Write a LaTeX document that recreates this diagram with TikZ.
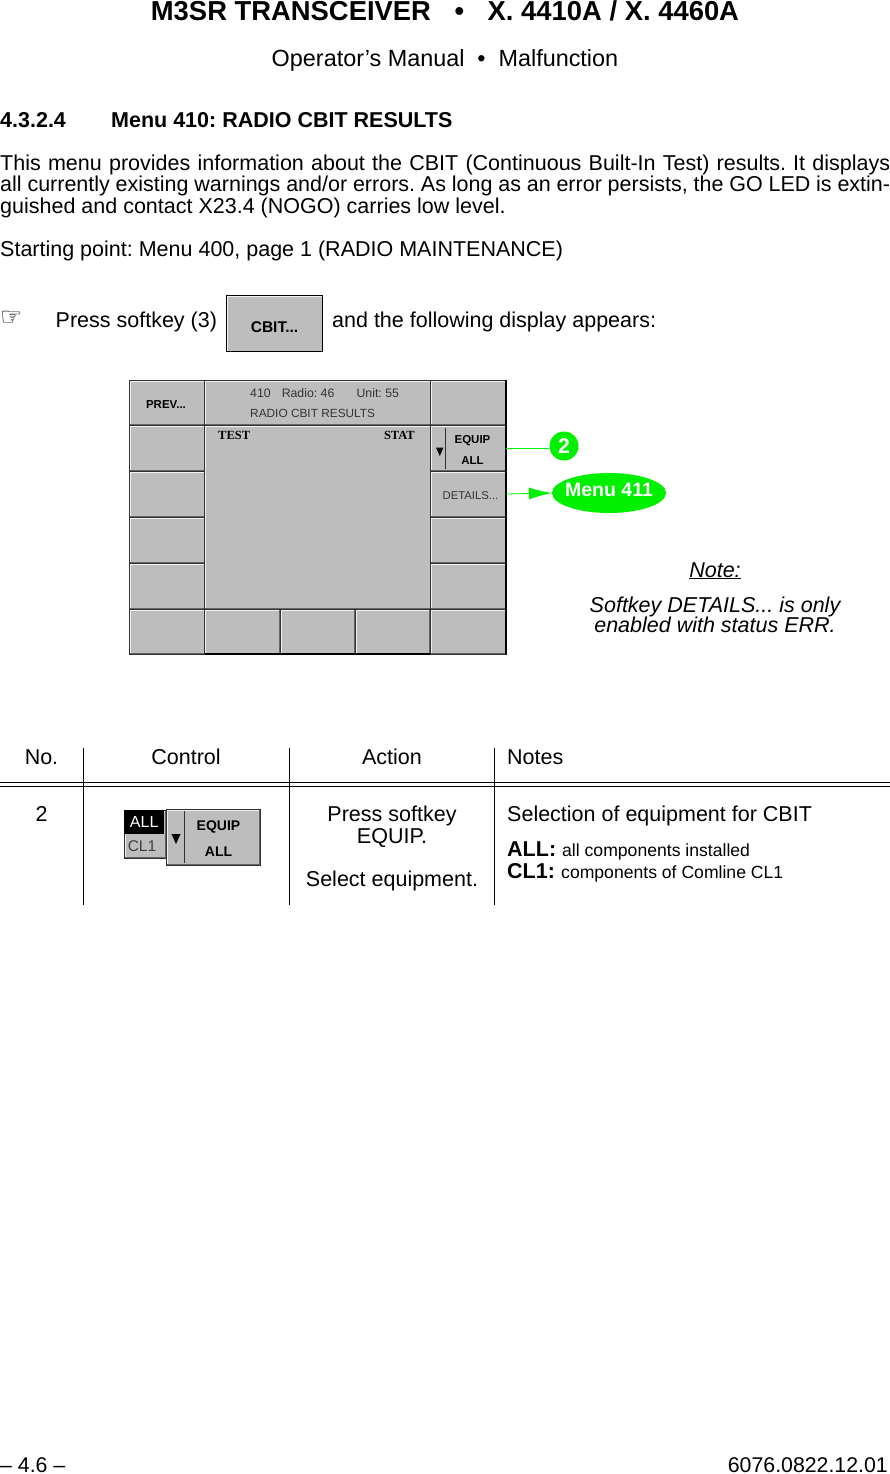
\documentclass[tikz,border=0pt]{standalone}
\usepackage{fontspec}
\setmainfont{Liberation Sans}
\newfontfamily\symfont{DejaVu Sans}
\newfontfamily\keyfont{Liberation Serif}
\usetikzlibrary{arrows.meta,shapes.geometric}
\AtBeginDocument{\frenchspacing}
\definecolor{keygray}{HTML}{BDBDBD}
\definecolor{keydark}{HTML}{303030}
\definecolor{menugreen}{HTML}{00F000}
\tikzset{
  softkey/.style={draw=keydark, line width=1pt, fill=keygray, inner sep=0pt, outer sep=0pt, anchor=north west,
    path picture={
      \draw[white!80!keygray, line width=3.5pt] (path picture bounding box.south west) -- (path picture bounding box.north west) -- (path picture bounding box.north east);
      \draw[black!60, line width=2pt] (path picture bounding box.south west) -- (path picture bounding box.south east) -- (path picture bounding box.north east);
    }},
  bodytext/.style={font=\fontsize{21.5}{21.5}\selectfont, inner sep=0pt},
  smalltext/.style={font=\fontsize{17.6}{21.5}\selectfont, inner sep=0pt},
  headtext/.style={font=\fontsize{21.5}{21.5}\selectfont\bfseries, inner sep=0pt},
  keylabel/.style={font=\fontsize{11.5}{14}\selectfont\bfseries, inner sep=0pt, text=black},
  screentext/.style={font=\fontsize{11.85}{14}\selectfont, inner sep=0pt, text=black!80},
  notetext/.style={font=\fontsize{21.5}{21.5}\selectfont\itshape, inner sep=0pt, anchor=base},
  tableline/.style={line width=1pt},
  greenline/.style={menugreen, line width=0.8pt},
}
\begin{document}
\begin{tikzpicture}[x=1pt,y=-1pt]
\useasboundingbox (0,0) rectangle (890,1474);
% Kop
\node[font=\fontsize{27.4}{27}\selectfont\bfseries, inner sep=0pt, anchor=base] (title) at (445,20.5) {M3SR TRANSCEIVER\hspace{0.86em}\textbullet\hspace{0.86em}X. 4410A / X. 4460A};
\node[font=\fontsize{23.4}{24}\selectfont, inner sep=0pt, anchor=base] (subtitle) at (445,66.5) {Operator’s Manual\hspace{0.55em}\textbullet\hspace{0.55em}Malfunction};
\node[headtext, anchor=base west] (secnum) at (0,127.5) {4.3.2.4};
\node[headtext, anchor=base west] (sectitle) at (111,127.5) {Menu 410: RADIO CBIT RESULTS};
% Tekst
\node[bodytext, anchor=north west, text width=890pt, align=justify] (intro) at (0,154.5) {This menu provides information about the CBIT (Continuous Built-In Test) results. It displays\linebreak all currently existing warnings and/or errors. As long as an error persists, the GO LED is extin-\linebreak guished and contact X23.4 (NOGO) carries low level.};
\node[bodytext, anchor=base west] (start) at (0,256) {Starting point: Menu 400, page 1 (RADIO MAINTENANCE)};
\node[inner sep=0pt, anchor=base west, font=\symfont\fontsize{25}{25}\selectfont\bfseries] (hand) at (0,325) {☞};
\node[bodytext, anchor=base west] (press) at (55.5,327) {Press softkey (3)};
\node[bodytext, anchor=base west] (appears) at (332,327) {and the following display appears:};
% Toets CBIT
\node[softkey, draw=black, minimum width=96pt, minimum height=56pt] (keyCbit) at (226.5,295.5) {};
\node[keylabel, font=\fontsize{15.5}{14}\selectfont\bfseries] (cbitlabel) at (keyCbit.center) [yshift=-3.5pt] {CBIT...};
% Scherm
\node[softkey, minimum width=75pt, minimum height=45pt] (keyPrev) at (129.5,380) {};
\node[softkey, minimum width=226pt, minimum height=45pt] (header) at (204.5,380) {};
\node[softkey, minimum width=75.5pt, minimum height=45pt] (keyTop) at (430.5,380) {};
\node[softkey, minimum width=226pt, minimum height=184pt] (panel) at (204.5,425) {};
\foreach \row/\ytop in {1/425,2/471,3/517,4/563}{
  \node[softkey, minimum width=75pt, minimum height=46pt] (keyL\row) at (129.5,\ytop) {};
  \node[softkey, minimum width=75.5pt, minimum height=46pt] (keyR\row) at (430.5,\ytop) {};
}
\node[softkey, minimum width=75pt, minimum height=45pt] (keyB1) at (129.5,609) {};
\node[softkey, minimum width=75.5pt, minimum height=45pt] (keyB2) at (204.5,609) {};
\node[softkey, minimum width=75pt, minimum height=45pt] (keyB3) at (280,609) {};
\node[softkey, minimum width=75pt, minimum height=45pt] (keyB4) at (355,609) {};
\node[softkey, minimum width=75.5pt, minimum height=45pt] (keyB5) at (430.5,609) {};
\draw[black, line width=2pt] (keyB2.south west) -- (keyB4.south east);
\draw[black, line width=2pt] (keyTop.north east) -- (keyB5.south east);
\node[keylabel] (prevlabel) at (166,405) {PREV...};
\node[screentext, font=\fontsize{12.3}{14}\selectfont, anchor=base west] (radioinfo) at (250,397.5) {410\hspace{0.9em}Radio: 46\hspace{1.8em}Unit: 55};
\node[screentext, anchor=base west] (radiotitle) at (250,417.5) {RADIO CBIT RESULTS};
\node[keylabel, anchor=base west, font=\keyfont\fontsize{12.5}{14}\selectfont\bfseries] (testlabel) at (218,439) {TEST};
\node[keylabel, anchor=base east, font=\keyfont\fontsize{12.5}{14}\selectfont\bfseries] (statlabel) at (415,439) {STAT};
\draw[keydark, line width=1pt] (445,428) -- (445,469);
\fill[black] (436,447.5) -- (443.5,447.5) -- (439.8,456) -- cycle;
\node[keylabel] (equiplabel) at (472.5,441) {EQUIP};
\node[keylabel] (alllabel) at (472.5,460.5) {ALL};
\node[screentext, font=\fontsize{11.3}{14}\selectfont] (detailslabel) at (470.5,496) {DETAILS...};
% Verwijzingen
\node[circle, fill=menugreen, text=white, font=\fontsize{21.3}{21.5}\selectfont\bfseries, inner sep=0pt, minimum size=29pt] (num2) at (564,446) {2};
\node[ellipse, fill=menugreen, inner sep=0pt, minimum width=114pt, minimum height=40pt] (menu411) at (609,493) {};
\node[text=white, font=\fontsize{19.5}{21.5}\selectfont\bfseries, inner sep=0pt] (menulabel) at (609,489.5) {Menu 411};
\draw[greenline] (keyR1.east) -- (keyR1.east -| num2.west);
\draw[greenline, -{Latex[length=23pt,width=12pt]}] (keyR2.east) -- (menu411.west);
% Opmerking
\node[notetext] (notehead) at (715,577) {\underline{Note:}};
\node[notetext] (noteline1) at (715,612) {Softkey DETAILS... is only};
\node[notetext] (noteline2) at (715,632) {enabled with status ERR.};
% Tabel
\coordinate (lineA) at (0,782);
\coordinate (lineB) at (0,786.5);
\draw[tableline] (lineA) -- ++(890,0);
\draw[tableline] (lineB) -- ++(890,0);
\foreach \x in {83.5,289.5,494.5}
  \draw[tableline] (\x,748) -- (\x,905);
\node[bodytext, anchor=base] (colNo) at (41.5,764) {No.};
\node[bodytext, anchor=base] (colControl) at (186,764) {Control};
\node[bodytext, anchor=base] (colAction) at (392,764) {Action};
\node[bodytext, anchor=base west] (colNotes) at (507,764) {Notes};
\node[bodytext, anchor=base] (rowNo) at (41.5,821) {2};
\node[bodytext, anchor=base] (act1) at (392,821) {Press softkey};
\node[bodytext, anchor=base] (act2) at (392,843) {EQUIP.};
\node[bodytext, anchor=base] (act3) at (392,886) {Select equipment.};
\node[bodytext, anchor=base west] (notes1) at (507,821) {Selection of equipment for CBIT};
\node[headtext, anchor=base west] (allhead) at (507,856) {ALL:};
\node[smalltext, anchor=base west] (alltext) at (562,856) {all components installed};
\node[headtext, anchor=base west] (clhead) at (507,878) {CL1:};
\node[smalltext, anchor=base west] (cltext) at (561,878) {components of Comline CL1};
% Keuzelijst
\node[softkey, minimum width=42pt, minimum height=48pt] (listbox) at (124,810) {};
\node[fill=black, text=white, font=\fontsize{16}{16}\selectfont, inner sep=0pt, anchor=north west, minimum width=40pt, minimum height=24pt] (listall) at (124,810) {ALL};
\node[font=\fontsize{15.5}{16}\selectfont, text=black!75, inner sep=0pt] (listcl) at (142,846.5) {CL1};
\node[softkey, minimum width=94pt, minimum height=56pt] (keyEquip) at (166,809) {};
\draw[keydark, line width=1pt] (184,811) -- (184,863);
\fill[black] (171.5,834) -- (180.5,834) -- (176,844) -- cycle;
\node[keylabel, font=\fontsize{14}{15}\selectfont\bfseries] (equipsmall) at (218.5,826.5) {EQUIP};
\node[keylabel, font=\fontsize{14}{15}\selectfont\bfseries] (allsmall) at (218.5,851.5) {ALL};
% Voet
\node[bodytext, font=\fontsize{21.3}{21.5}\selectfont, anchor=base west] (pagenum) at (0,1472) {– 4.6 –};
\node[bodytext, font=\fontsize{21.3}{21.5}\selectfont, anchor=base east] (docnum) at (888,1472) {6076.0822.12.01};
\end{tikzpicture}
\end{document}
